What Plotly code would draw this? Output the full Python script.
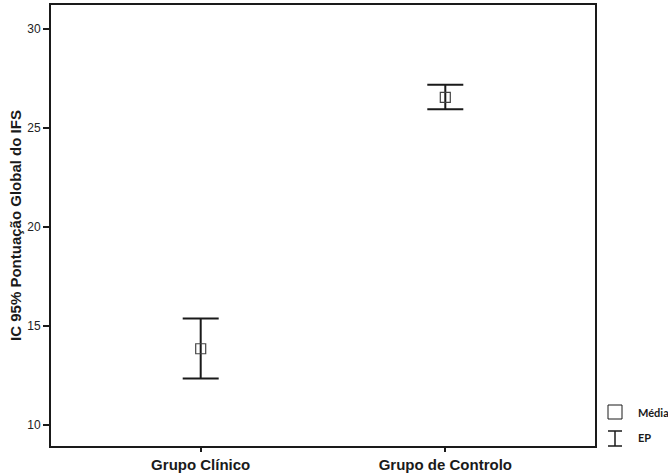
import plotly.graph_objects as go

# Group means of the IFS global score and 95% CI limits
grupos = ["Grupo Clínico", "Grupo de Controlo"]
medias = [13.85, 26.55]
ic_sup = [15.38, 27.18]
ic_inf = [12.35, 25.95]

err_plus = [s - m for s, m in zip(ic_sup, medias)]
err_minus = [m - i for m, i in zip(medias, ic_inf)]

ink = "#1a1a1a"

fig = go.Figure()
fig.add_trace(go.Scatter(
    x=[0, 1], y=medias, mode="markers",
    marker=dict(symbol="square-open", size=10, color="#444", line=dict(width=1.2)),
    error_y=dict(type="data", symmetric=False, array=err_plus, arrayminus=err_minus,
                 color=ink, thickness=2, width=18),
    showlegend=False, hoverinfo="y",
))

fig.update_layout(
    width=668, height=475,
    margin=dict(l=51, r=73, t=5, b=29),
    plot_bgcolor="white", paper_bgcolor="white",
    font=dict(family="Liberation Sans, Arial, sans-serif", color=ink),
)
fig.update_xaxes(
    range=[-0.612, 1.612], tickvals=[0, 1], ticktext=[f"<b>{g}</b>" for g in grupos],
    showgrid=False, zeroline=False, showline=True, linecolor=ink, linewidth=2, mirror=True,
    ticks="outside", ticklen=4, tickwidth=1.5, tickcolor=ink, automargin=False,
    tickfont=dict(size=15, family="Liberation Sans, Arial, sans-serif", color=ink),
)
fig.update_yaxes(
    range=[8.94, 31.21], tickvals=[10, 15, 20, 25, 30],
    showgrid=False, zeroline=False, showline=True, linecolor=ink, linewidth=2, mirror=True,
    ticks="outside", ticklen=6, tickwidth=1.5, tickcolor=ink, automargin=False,
    tickfont=dict(size=12, color="#222"),
    title=dict(text="<b>IC 95% Pontuação Global do IFS</b>", font=dict(size=15, color=ink), standoff=2),
)

# Legend drawn at the lower right: open square for the mean, I-beam for the error bar
fig.add_shape(type="rect", xref="paper", yref="paper",
              x0=1.0+(608-595)/544, x1=1.0+(622-595)/544,
              y0=(446-419)/441, y1=(446-405)/441,
              line=dict(color=ink, width=1), fillcolor="white")
bx = 1.0 + (615-595)/544
y_top = (446-431)/441
y_bot = (446-446)/441
fig.add_shape(type="line", xref="paper", yref="paper", x0=bx, x1=bx, y0=y_bot, y1=y_top,
              line=dict(color=ink, width=1.5))
for yy in (y_top, y_bot):
    fig.add_shape(type="line", xref="paper", yref="paper",
                  x0=bx-(7/544), x1=bx+(7/544), y0=yy, y1=yy, line=dict(color=ink, width=1.5))
fig.add_annotation(xref="paper", yref="paper", x=1.0+(636-595)/544, y=(446-412)/441,
                   text="<b>Média</b>", showarrow=False, xanchor="left", yanchor="middle",
                   font=dict(family="Lato, Carlito, sans-serif", size=11, color=ink))
fig.add_annotation(xref="paper", yref="paper", x=1.0+(636-595)/544, y=(446-437)/441,
                   text="<b>EP</b>", showarrow=False, xanchor="left", yanchor="middle",
                   font=dict(family="Lato, Carlito, sans-serif", size=11, color=ink))

fig.write_html("out.html")
